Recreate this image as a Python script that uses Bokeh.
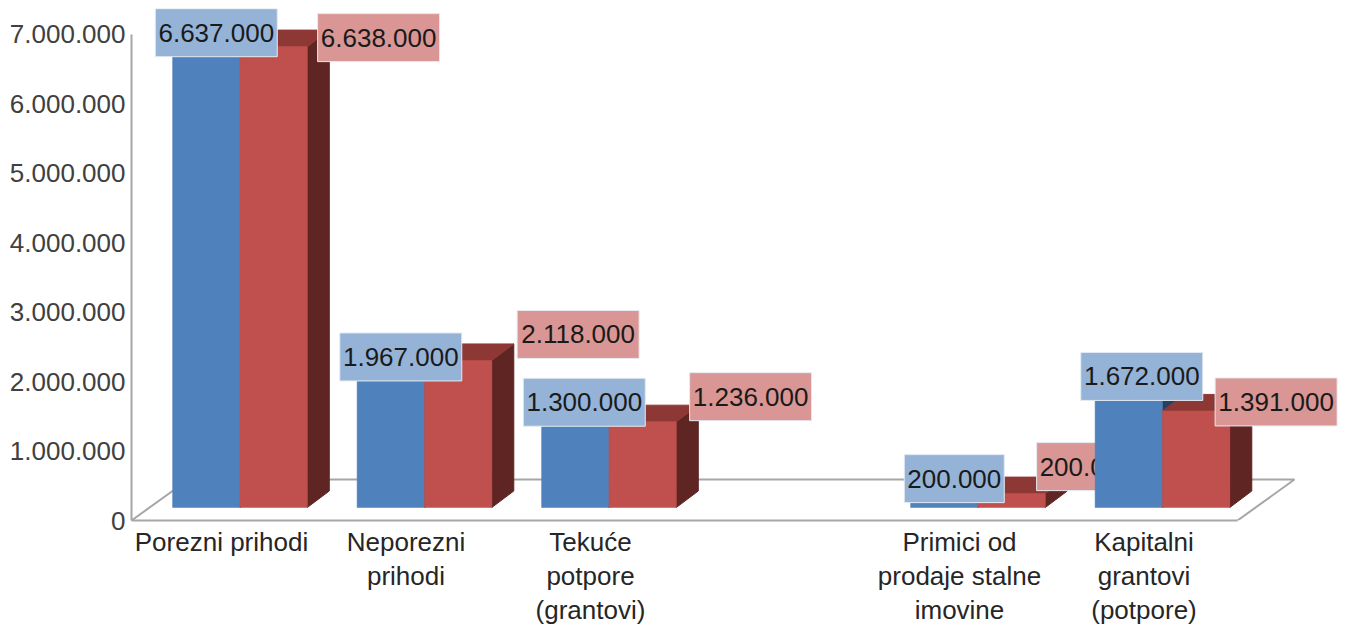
from bokeh.plotting import figure
from bokeh.models import FixedTicker, Range1d
from bokeh.core.properties import value
from bokeh.embed import file_html
from bokeh.resources import INLINE

categories = ["Porezni prihodi", "Neporezni\nprihodi", "Tekuće\npotpore\n(grantovi)", "",
              "Primici od\nprodaje stalne\nimovine", "Kapitalni\ngrantovi\n(potpore)"]
blue_values = [6637000, 1967000, 1300000, None, 200000, 1672000]
red_values = [6638000, 2118000, 1236000, None, 200000, 1391000]
y_ticks = [0, 1000000, 2000000, 3000000, 4000000, 5000000, 6000000, 7000000]

# Label nudges from bar centre / bar top, in pixels (style only)
blue_nudge = [(10, 14), (10, 14), (9, 15), None, (10, 15), (13, 15)]
red_nudge = [(105, 9), (120, 26), (108, 25), None, (75, 27), (80, 9)]

PX_X = 184.5          # pixels per category
PX_Y = 69.43e-6       # pixels per unit
FONT = "Liberation Sans"
HALF = 0.365
SHIFT = 0.10
DX = 22 / PX_X
DY = 16.5 / PX_Y
BASE = 13 / PX_Y


def fmt(v):
    return f"{v:,}".replace(",", ".")


p = figure(width=1338, height=628, output_backend="svg", toolbar_location=None,
           x_range=Range1d((131 - 221) / PX_X, (1338 - 221) / PX_X),
           y_range=Range1d(0, 512 / PX_Y),
           min_border_left=131, min_border_right=0, min_border_top=8, min_border_bottom=108,
           background_fill_color="white", border_fill_color="white")
p.outline_line_color = None
p.grid.visible = False

ax = p.yaxis[0]
ax.ticker = FixedTicker(ticks=y_ticks)
ax.major_label_overrides = {t: fmt(t) for t in y_ticks}
ax.bounds = (0, y_ticks[-1])
ax.major_tick_in = 0
ax.major_tick_out = 0
ax.minor_tick_line_color = None
ax.axis_line_color = "#a6a6a6"
ax.axis_line_width = 2
ax.major_label_standoff = 6
ax.major_label_text_font = FONT
ax.major_label_text_font_size = "26px"
ax.major_label_text_color = "#404040"

bx = p.xaxis[0]
bx.ticker = FixedTicker(ticks=[i for i, c in enumerate(categories) if c])
bx.major_label_overrides = {i: c for i, c in enumerate(categories) if c}
bx.bounds = ((131 - 221) / PX_X, (1237 - 221) / PX_X)
bx.major_tick_in = 0
bx.major_tick_out = 0
bx.minor_tick_line_color = None
bx.axis_line_color = "#a6a6a6"
bx.axis_line_width = 2
bx.major_label_standoff = 6
bx.major_label_text_font = FONT
bx.major_label_text_font_size = "26px"
bx.major_label_text_color = "#262626"
bx.major_label_text_line_height = 1.14

# Floor outline
x0, x1 = p.x_range.start, bx.bounds[1]
floor_dx = 57 / PX_X
floor_dy = 41 / PX_Y
p.line([x0, x0 + floor_dx, x1 + floor_dx, x1], [0, floor_dy, floor_dy, 0],
       line_color="#a6a6a6", line_width=2)


def box3d(left, right, v, front, top, side):
    lo, hi = BASE, BASE + v
    p.patch([right, right + DX, right + DX, right], [lo, lo + DY, hi + DY, hi], fill_color=side, line_color=side)
    p.patch([left, left + DX, right + DX, right], [hi, hi + DY, hi + DY, hi], fill_color=top, line_color=top)
    p.quad(left=left, right=right, bottom=lo, top=hi, fill_color=front, line_color=front, line_width=0.5)


def tag(center, v, nudge, fill):
    txt = fmt(v)
    w = 61 if len(txt) > 7 else 50
    cx = center + nudge[0] / PX_X
    cy = BASE + v + nudge[1] / PX_Y
    h = 24 / PX_Y
    p.quad(left=cx - w / PX_X, right=cx + w / PX_X, bottom=cy - h, top=cy + h,
           fill_color=fill, line_color="#e6ebf2", line_width=1)
    p.text(x=[cx], y=[cy], text=[txt], text_align="center", text_baseline="middle",
           text_font=value(FONT), text_font_size="26px", text_color="#1a1a1a")


for i, (b, r) in enumerate(zip(blue_values, red_values)):
    if b is None:
        continue
    c = i + SHIFT
    box3d(c - HALF, c, b, "#4F81BD", "#376092", "#254061")
    box3d(c, c + HALF, r, "#C0504D", "#8E3836", "#5F2523")
    tag(c - HALF / 2, b, blue_nudge[i], "#95B3D7")
    tag(c + HALF / 2, r, red_nudge[i], "#D99694")

open("out.html", "w").write(file_html(p, INLINE))
